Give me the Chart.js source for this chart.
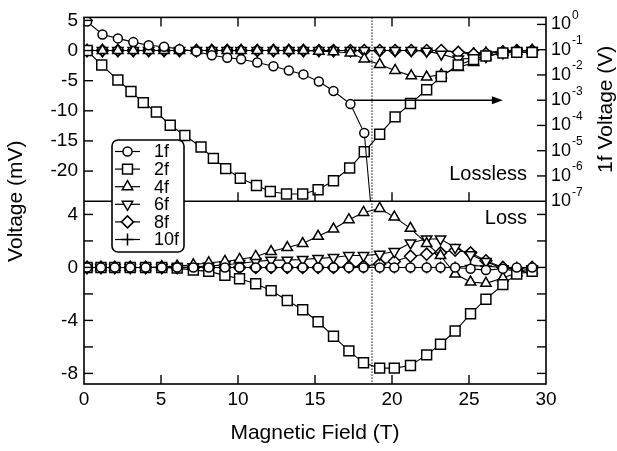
<!DOCTYPE html>
<html>
<head>
<meta charset="utf-8">
<script src="https://cdn.jsdelivr.net/npm/chart.js@4.4.0/dist/chart.umd.min.js"></script>
<style>
    html, body { margin: 0; padding: 0; background: #fff; }
    #wrap { width: 617px; height: 451px; }
</style>
</head>
<body>
<div id="wrap"><canvas id="chart" width="617" height="451"></canvas></div>
<script>
// ============= DATA =============

// Magnetic field (T) of the measured points
const fieldTop = [0.2, 1.2, 2.2, 3.2, 4.2, 5.2, 6.2, 7.3, 8.3, 9.3, 10.2, 11.25, 12.3, 13.3, 14.25,
    15.25, 16.2, 17.3, 18.2, 19.2, 20.2, 21.25, 22.25, 23.2, 24.3, 25.3, 26.1, 27.2, 28.1, 29.1];
const field2fTop = [0.2, 1.15, 2.2, 3.05, 3.85, 4.7, 5.6, 6.55, 7.6, 8.4, 9.2, 10.15, 11.2, 12.1, 13.15,
    14.2, 15.2, 16.2, 17.25, 18.2, 19.2, 20.2, 21.2, 22.25, 23.2, 24.3, 25.3, 26.1, 27.2, 28.1, 29.1];
const field1fTop = [0.2, 1.2, 2.2, 3.2, 4.2, 5.2, 6.2, 7.3, 8.3, 9.3, 10.2, 11.25, 12.3, 13.3, 14.25,
    15.25, 16.2, 17.3, 18.2, 18.6];
const fieldBottom = [0.2, 1.1, 2.0, 3.0, 4.0, 5.05, 6.05, 7.1, 8.1, 9.15, 10.1, 11.15, 12.15, 13.2, 14.2,
    15.2, 16.2, 17.2, 18.15, 19.2, 20.15, 21.2, 22.25, 23.15, 24.1, 25.1, 26.1, 27.2, 28.1, 29.1];

// Lossless panel: 1f in volts (right log axis), the others in mV
const lossless1f = [1.3, 0.4, 0.28, 0.2, 0.15, 0.13, 0.105, 0.085, 0.06, 0.048, 0.042, 0.031, 0.022, 0.015,
    0.0105, 0.0055, 0.0023, 0.0007, 0.00005, 1e-7];
const lossless2f = [0, -2.4, -4.9, -6.8, -8.65, -10.2, -12.4, -14.1, -16.0, -17.9, -19.6, -21.2, -22.4, -23.4,
    -23.8, -23.8, -23.1, -21.6, -19.5, -16.8, -13.9, -11.0, -8.8, -6.5, -4.3, -2.4, -1.5, -0.9, -0.4, -0.3, -0.3];
const lossless4f = [0, 0, 0, 0, 0, 0, 0, 0, 0, 0, 0, 0, 0, 0, 0,
    -0.1, -0.2, -0.4, -1.4, -2.3, -3.3, -4.2, -4.4, -4.0, -2.8, -2.0, -1.0, -0.3, -0.1, 0];
const lossless6f = [0, 0, 0, 0, 0, 0, 0, 0, 0, 0, 0, 0, 0, 0, 0,
    0, 0, 0, 0, 0, 0, 0, -0.1, -0.6, -1.4, -1.3, -1.0, -0.4, -0.1, 0];
const lossless8f = [0, 0, 0, 0, 0, 0, 0, 0, 0, 0, 0, 0, 0, 0, 0,
    0, 0, 0, 0, 0, 0, 0, 0, 0, -0.3, -0.6, -0.5, -0.2, 0, 0];
const lossless10f = [0, 0, 0, 0, 0, 0, 0, 0, 0, 0, 0, 0, 0, 0, 0,
    0, 0, 0, 0, 0, 0, 0, 0, 0, -0.2, -0.4, -0.3, -0.1, 0, 0];

// Loss panel, mV
const loss1f = [0, 0, 0, 0, 0, 0, 0, 0, 0, 0, 0, 0, 0, 0, 0,
    0, 0, 0, 0, 0, 0, 0, 0, 0, 0, -0.1, -0.2, -0.1, 0, 0];
const loss2f = [0, 0, 0, 0, 0, 0, -0.05, -0.2, -0.3, -0.6, -0.85, -1.23, -1.75, -2.5, -3.2,
    -4.1, -5.2, -6.3, -7.2, -7.6, -7.6, -7.4, -6.6, -5.8, -4.8, -3.5, -2.4, -1.3, -0.5, -0.3];
const loss4f = [0, 0, 0, 0, 0, 0.05, 0.1, 0.2, 0.35, 0.45, 0.6, 0.83, 1.2, 1.5, 1.8,
    2.35, 2.9, 3.6, 4.15, 4.45, 3.8, 2.95, 1.8, 0.9, -0.5, -1.1, -1.2, -0.8, -0.4, -0.2];
const loss6f = [0, 0, 0, 0, 0, 0, 0, 0.05, 0.1, 0.2, 0.3, 0.45, 0.55, 0.55, 0.6,
    0.68, 0.75, 0.9, 0.9, 1.0, 1.2, 1.85, 2.15, 2.15, 1.5, 0.95, 0.45, -0.1, -0.3, -0.1];
const loss8f = [0, 0, 0, 0, 0, 0, 0, 0, 0, 0, 0, 0, 0, 0, 0,
    0, 0, 0.05, 0.1, 0.25, 0.45, 0.85, 1.0, 1.1, 1.3, 1.1, 0.5, 0, -0.1, 0];
const loss10f = [0, 0, 0, 0, 0, 0, 0, 0, 0, 0, 0, 0, 0, 0, 0,
    0, 0, 0, 0, 0, 0, 0, 0, 0, 0, 0.15, 0.1, 0, 0, 0];

// Tick labels
const fieldTicks = [0, 5, 10, 15, 20, 25, 30];
const losslessTicks = [5, 0, -5, -10, -15, -20];
const lossTicks = [4, 0, -4, -8];
const logDecades = [0, -1, -2, -3, -4, -5, -6, -7];

// Annotations
const criticalField = 18.7;      // dotted line
const arrowFrom = 17.5;
const arrowTo = 27.2;
const arrowLevel = 1e-3;         // on the 1f axis

// ============= STYLE =============

const FONT = "'Liberation Sans', Arial, Helvetica, sans-serif";
const markers = {
    '1f':  { pointStyle: 'circle',   radius: 4.5, rotation: 0 },
    '2f':  { pointStyle: 'rect',     radius: 7,   rotation: 0 },
    '4f':  { pointStyle: 'triangle', radius: 6,   rotation: 0 },
    '6f':  { pointStyle: 'triangle', radius: 6,   rotation: 180 },
    '8f':  { pointStyle: 'rectRot',  radius: 6,   rotation: 0 },
    '10f': { pointStyle: 'cross',    radius: 6,   rotation: 0 }
};

Chart.defaults.font.family = FONT;
Chart.defaults.color = '#000';

function pairs(xs, ys) {
    return ys.map((y, i) => ({ x: xs[i], y: y }));
}

function series(name, xs, ys, axis) {
    const m = markers[name];
    return {
        label: name,
        data: pairs(xs, ys),
        yAxisID: axis,
        borderColor: '#000',
        borderWidth: 1.1,
        backgroundColor: '#fff',
        pointBackgroundColor: '#fff',
        pointBorderColor: '#000',
        pointBorderWidth: 1.5,
        pointStyle: m.pointStyle,
        pointRotation: m.rotation,
        pointRadius: (ctx) => (ctx.raw && ctx.raw.y <= 1e-7 && axis === 'yLog') ? 0 : m.radius,
        tension: 0,
        fill: false
    };
}

const datasets = [
    series('1f', field1fTop, lossless1f, 'yLog'),
    series('2f', field2fTop, lossless2f, 'yTop'),
    series('4f', fieldTop, lossless4f, 'yTop'),
    series('6f', fieldTop, lossless6f, 'yTop'),
    series('8f', fieldTop, lossless8f, 'yTop'),
    series('10f', fieldTop, lossless10f, 'yTop'),
    series('1f', fieldBottom, loss1f, 'yBot'),
    series('2f', fieldBottom, loss2f, 'yBot'),
    series('4f', fieldBottom, loss4f, 'yBot'),
    series('6f', fieldBottom, loss6f, 'yBot'),
    series('8f', fieldBottom, loss8f, 'yBot'),
    series('10f', fieldBottom, loss10f, 'yBot')
];

// ============= DECORATIONS =============

function line(ctx, x1, y1, x2, y2) {
    ctx.beginPath();
    ctx.moveTo(x1, y1);
    ctx.lineTo(x2, y2);
    ctx.stroke();
}

function onStep(v, step) {
    return Math.abs(v - Math.round(v)) < 1e-6 && Math.round(v) % step === 0;
}

const decorations = {
    id: 'decorations',
    beforeDatasetsDraw(chart) {
        const { ctx, scales: { x, yTop, yBot } } = chart;
        const px = x.getPixelForValue(criticalField);
        ctx.save();
        ctx.strokeStyle = '#000';
        ctx.lineWidth = 1;
        ctx.setLineDash([1.5, 1.5]);
        line(ctx, px, yTop.top, px, yBot.bottom);
        ctx.restore();
    },
    afterDraw(chart) {
        const { ctx, scales: { x, yTop, yBot, yLog } } = chart;
        const L = x.left, R = x.right, T = yTop.top, M = yTop.bottom, B = yBot.bottom;
        const TL = 9;
        ctx.save();
        ctx.strokeStyle = '#000';
        ctx.fillStyle = '#000';

        // frame and divider
        ctx.lineWidth = 1.6;
        ctx.strokeRect(L, T, R - L, B - T);
        line(ctx, L, M, R, M);

        // inward tick marks
        ctx.lineWidth = 1.4;
        x.ticks.forEach(t => {
            if (!onStep(t.value, 5) || t.value <= x.min || t.value >= x.max) return;
            const px = x.getPixelForValue(t.value);
            line(ctx, px, B, px, B - TL);
            line(ctx, px, M, px, M - TL);
            line(ctx, px, T, px, T + TL);
        });
        yTop.ticks.forEach(t => {
            if (!onStep(t.value, 5) || t.value <= yTop.min) return;
            const py = yTop.getPixelForValue(t.value);
            line(ctx, L, py, L + TL, py);
        });
        yBot.ticks.forEach(t => {
            if (!onStep(t.value, 2)) return;
            const py = yBot.getPixelForValue(t.value);
            line(ctx, L, py, L + TL, py);
            line(ctx, R, py, R - TL, py);
        });
        logDecades.forEach(k => {
            const py = yLog.getPixelForValue(Math.pow(10, k));
            if (k > -7) line(ctx, R, py, R - TL, py);
            // 10^k label
            ctx.textAlign = 'left';
            ctx.textBaseline = 'middle';
            ctx.font = '18px ' + FONT;
            ctx.fillText('10', R + 5, py);
            const w = ctx.measureText('10').width;
            ctx.font = '12px ' + FONT;
            ctx.fillText(String(k), R + 6 + w, py - 9);
        });

        // arrow pointing to the 1f axis
        const ay = yLog.getPixelForValue(arrowLevel);
        const ax1 = x.getPixelForValue(arrowFrom);
        const ax2 = x.getPixelForValue(arrowTo);
        ctx.lineWidth = 1.4;
        line(ctx, ax1, ay, ax2 - 8, ay);
        ctx.beginPath();
        ctx.moveTo(ax2, ay);
        ctx.lineTo(ax2 - 11, ay - 4);
        ctx.lineTo(ax2 - 11, ay + 4);
        ctx.closePath();
        ctx.fill();

        // panel labels
        ctx.font = '20px ' + FONT;
        ctx.textAlign = 'right';
        ctx.textBaseline = 'middle';
        ctx.fillText('Lossless', R - 19, M - 27);
        ctx.fillText('Loss', R - 19, M + 17);

        // axis titles
        ctx.font = '21px ' + FONT;
        ctx.textAlign = 'center';
        ctx.fillText('Magnetic Field (T)', (L + R) / 2, 433);
        ctx.save();
        ctx.translate(16, M);
        ctx.rotate(-Math.PI / 2);
        ctx.fillText('Voltage (mV)', 0, 0);
        ctx.restore();
        ctx.save();
        ctx.translate(606, (T + M) / 2);
        ctx.rotate(-Math.PI / 2);
        ctx.fillText('1f Voltage (V)', 0, 0);
        ctx.restore();

        // legend box
        const bx = 112, by = 140, bw = 72, bh = 112;
        ctx.beginPath();
        ctx.roundRect(bx, by, bw, bh, 6);
        ctx.fillStyle = '#fff';
        ctx.fill();
        ctx.lineWidth = 1.6;
        ctx.stroke();
        const names = Object.keys(markers);
        names.forEach((name, i) => {
            const cy = by + 11.5 + i * 17.6;
            ctx.strokeStyle = '#000';
            ctx.lineWidth = 1.2;
            line(ctx, bx + 3, cy, bx + 28, cy);
            const m = markers[name];
            ctx.fillStyle = '#fff';
            ctx.lineWidth = 1.5;
            Chart.helpers.drawPoint(ctx, {
                pointStyle: m.pointStyle,
                radius: m.radius,
                rotation: m.rotation,
                borderWidth: 1.5
            }, bx + 15.5, cy);
            ctx.fillStyle = '#000';
            ctx.font = '18px ' + FONT;
            ctx.textAlign = 'left';
            ctx.textBaseline = 'middle';
            ctx.fillText(name, bx + 42, cy + 1);
        });
        ctx.restore();
    }
};

// ============= CHART =============

const noGrid = { display: false, drawTicks: false };
const noBorder = { display: false };

new Chart(document.getElementById('chart'), {
    type: 'line',
    data: { datasets: datasets },
    options: {
        responsive: false,
        animation: false,
        events: [],
        layout: { padding: { top: 15, left: 0, right: 0, bottom: 0 } },
        plugins: { legend: { display: false }, tooltip: { enabled: false } },
        scales: {
            x: {
                type: 'linear', position: 'bottom', min: 0, max: 30,
                ticks: {
                    stepSize: 5, padding: 4, maxRotation: 0, font: { size: 19 }, includeBounds: false,
                    callback: (v) => fieldTicks.includes(v) ? String(v) : ''
                },
                grid: noGrid, border: noBorder,
                afterFit: (s) => { s.height = 67; }
            },
            yBot: {
                type: 'linear', position: 'left', stack: 'left', stackWeight: 184,
                min: -8.8, max: 5,
                ticks: {
                    stepSize: 2, padding: 6, autoSkip: false, font: { size: 19 }, includeBounds: false,
                    callback: (v) => lossTicks.includes(v) ? String(v) : ''
                },
                grid: noGrid, border: noBorder,
                afterFit: (s) => { s.width = 84; }
            },
            yTop: {
                type: 'linear', position: 'left', stack: 'left', stackWeight: 185,
                min: -25, max: 5.5,
                ticks: {
                    stepSize: 5, padding: 6, autoSkip: false, font: { size: 19 }, includeBounds: false,
                    callback: (v) => losslessTicks.includes(v) ? String(v) : ''
                },
                grid: noGrid, border: noBorder,
                afterFit: (s) => { s.width = 84; }
            },
            yLog: {
                type: 'logarithmic', position: 'right', stack: 'right', stackWeight: 185,
                min: 1e-7, max: 1.9,
                ticks: { display: false },
                grid: noGrid, border: noBorder,
                afterFit: (s) => { s.width = 71; }
            },
            yBotR: {
                type: 'linear', position: 'right', stack: 'right', stackWeight: 184,
                min: 0, max: 1,
                ticks: { display: false },
                grid: noGrid, border: noBorder,
                afterFit: (s) => { s.width = 71; }
            }
        }
    },
    plugins: [decorations]
});
</script>
</body>
</html>
